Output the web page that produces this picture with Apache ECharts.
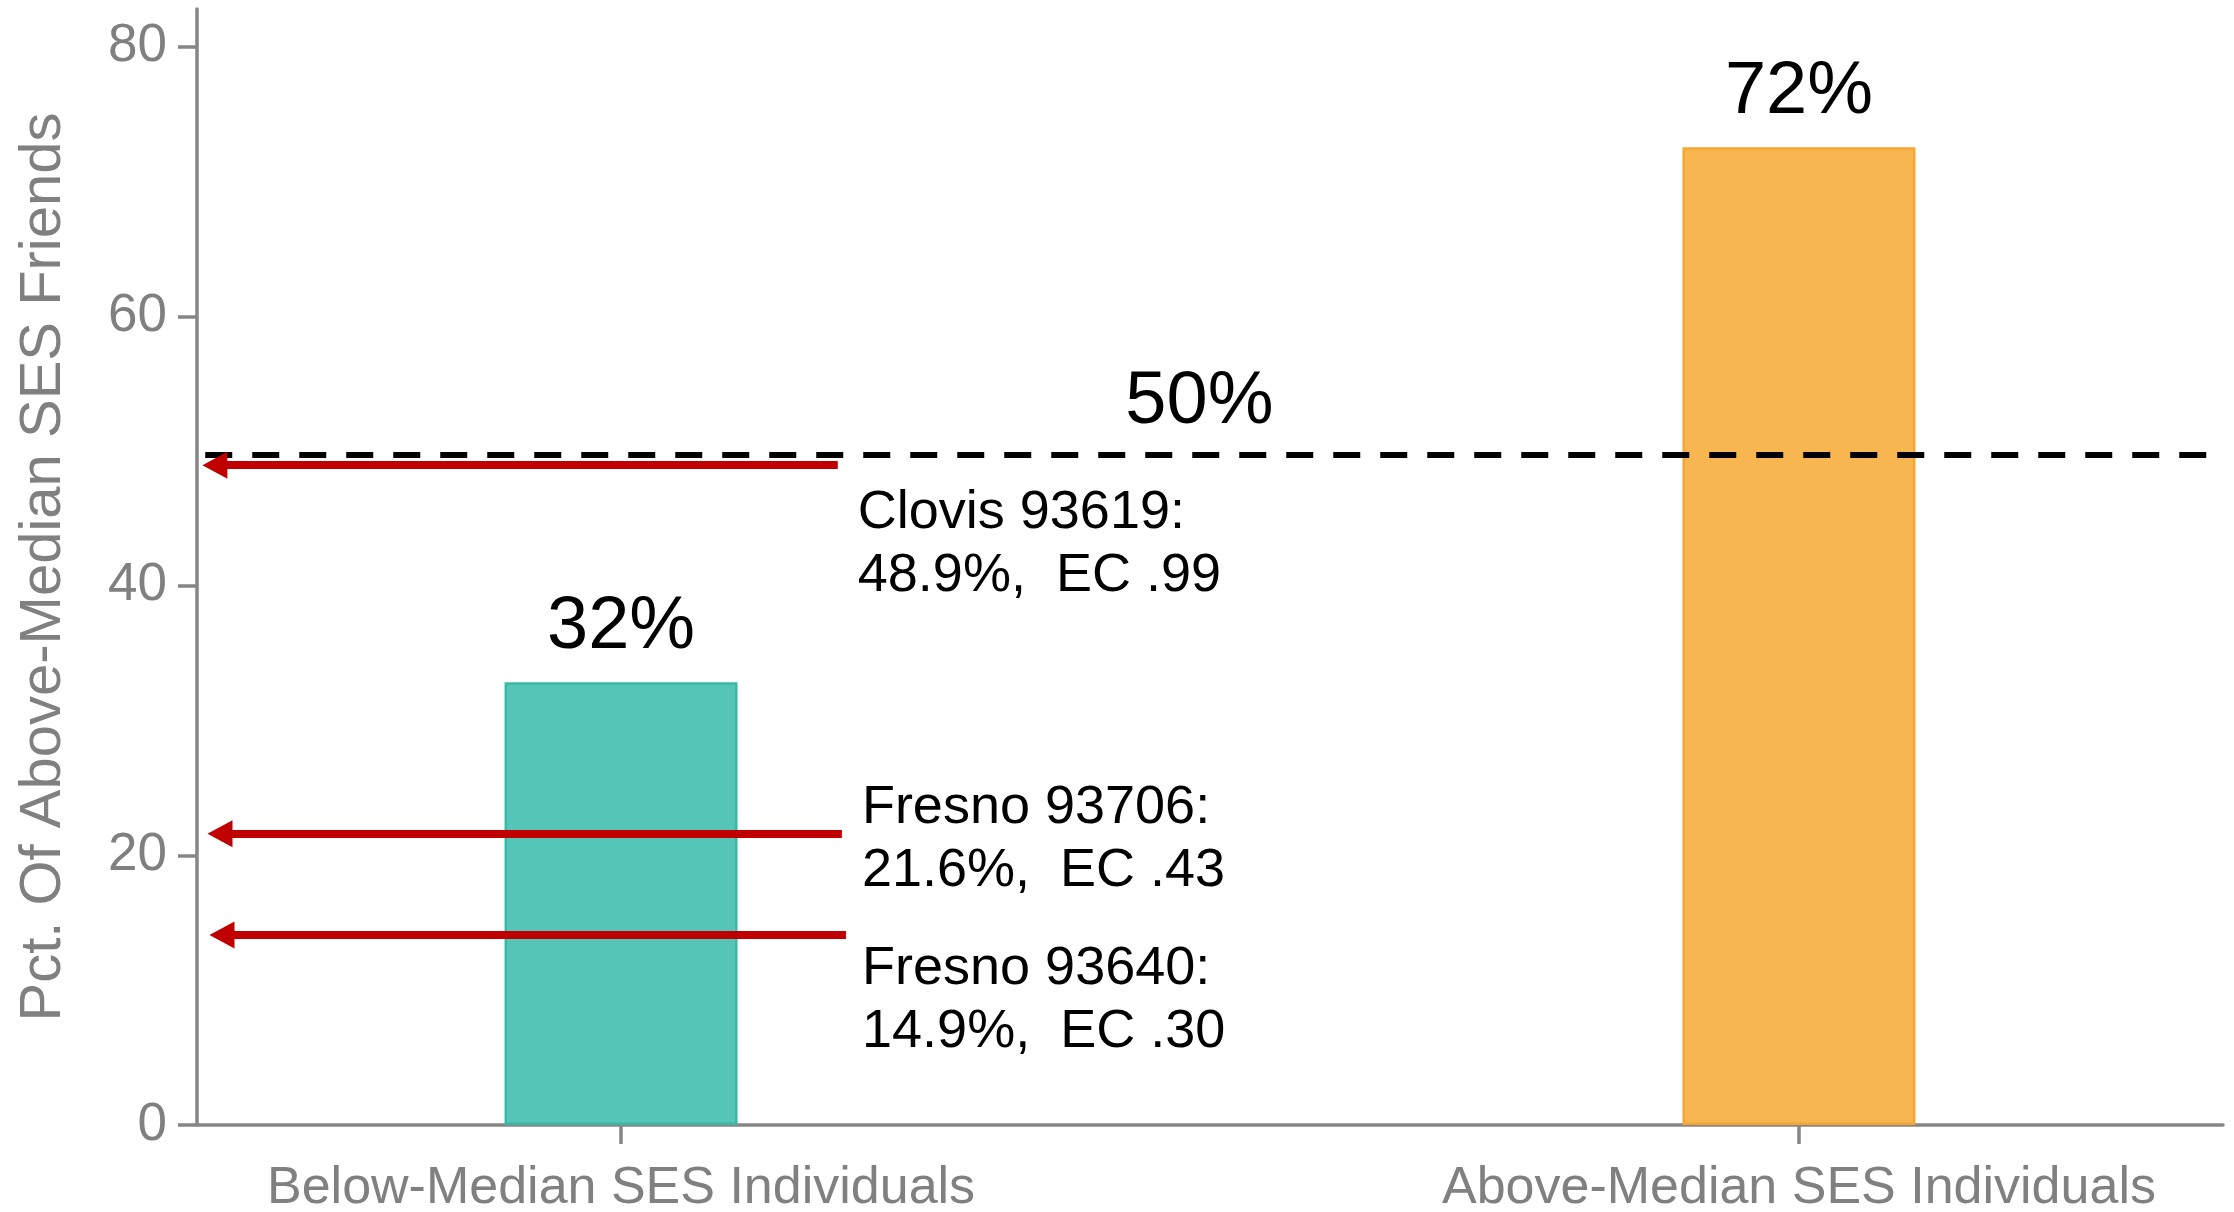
<!DOCTYPE html>
<html><head><meta charset="utf-8">
<script src="https://cdn.jsdelivr.net/npm/echarts@6/dist/echarts.min.js"></script>
<style>html,body{margin:0;padding:0;background:#fff}#c{width:2234px;height:1212px}</style>
</head><body><div id="c"></div>
<script>
// ---- data ----
const categories = ['Below-Median SES Individuals', 'Above-Median SES Individuals'];
const barValues = [32.85, 72.55];
const barLabels = ['32%', '72%'];
const yTicks = [0, 20, 40, 60, 80];
const refValue = 49.7;
const refLabel = '50%';
const refFrom = -0.353;
const refTo = 1.347;
const noteNames = ['Clovis 93619:', 'Fresno 93706:', 'Fresno 93640:'];
const noteTexts = ['48.9%,  EC .99', '21.6%,  EC .43', '14.9%,  EC .30'];
const arrowValues = [48.95, 21.6, 14.1];
const arrowTails = [0.184, 0.1875, 0.191];
const arrowHeads = [-0.3448, -0.3405, -0.3388];

// ---- styling ----
const FONT = 'Liberation Sans, Arial, Helvetica, sans-serif';
const GRAY = '#808080';
const AXIS = '#868686';
const RED = '#c00000';
const fills = ['#55c5b7', '#f8b650'];
const borders = ['#38b8a6', '#f5a630'];
const noteOffsets = [[20, 79], [20, 6], [16, 66]];

const chart = echarts.init(document.getElementById('c'), null, {renderer: 'canvas'});

const barData = barValues.map((v, i) => ({
  value: [i, v],
  itemStyle: {color: fills[i], borderColor: borders[i], borderWidth: 2.5, opacity: 1},
  label: {formatter: barLabels[i]}
}));

const arrowLines = arrowValues.map((v, i) => [
  {coord: [arrowTails[i], v], symbol: 'none'},
  {coord: [arrowHeads[i], v], symbol: 'triangle', symbolSize: [27, 25]}
]);

const refLine = [[
  {coord: [refFrom, refValue], symbol: 'none'},
  {coord: [refTo, refValue], symbol: 'none'}
]];

const noteData = arrowValues.map((v, i) => ({
  value: [arrowTails[i], v],
  label: {formatter: noteNames[i] + '\n' + noteTexts[i], offset: noteOffsets[i]}
}));

chart.setOption({
  animation: false,
  backgroundColor: '#ffffff',
  grid: {left: 197, right: 11, top: 9, bottom: 87, containLabel: false, outerBoundsMode: 'none'},
  xAxis: {
    type: 'value', min: -0.36, max: 1.36,
    axisLine: {show: true, onZero: false, lineStyle: {color: AXIS, width: 3.5}},
    axisTick: {show: true, customValues: [0, 1], length: 19, lineStyle: {color: AXIS, width: 3.5}},
    axisLabel: {customValues: [0, 1], formatter: v => categories[Math.round(v)] || '',
      color: GRAY, fontSize: 52, fontFamily: FONT, margin: 38},
    splitLine: {show: false}
  },
  yAxis: {
    type: 'value', min: 0, max: 82.8,
    name: 'Pct. Of Above-Median SES Friends', nameLocation: 'middle', nameGap: 124,
    nameTextStyle: {color: GRAY, fontSize: 58, fontFamily: FONT},
    axisLine: {show: true, onZero: false, lineStyle: {color: AXIS, width: 3.5}},
    axisTick: {show: true, customValues: yTicks, length: 19, lineStyle: {color: AXIS, width: 3.5}},
    axisLabel: {customValues: yTicks, color: GRAY, fontSize: 53, fontFamily: FONT, margin: 30},
    splitLine: {show: false}
  },
  series: [
    {
      type: 'bar', data: barData, barWidth: 233, z: 2,
      label: {show: true, position: 'top', distance: 18, fontSize: 74, fontFamily: FONT, color: '#000'},
      markLine: {
        silent: true, symbol: 'none', z: 5,
        label: {show: false},
        lineStyle: {color: '#000', width: 6, type: [27, 20], opacity: 1},
        data: refLine
      }
    },
    {
      type: 'line', data: [], z: 6,
      markLine: {
        silent: true, z: 6,
        label: {show: false},
        lineStyle: {color: RED, width: 8, type: 'solid', opacity: 1},
        itemStyle: {color: RED, opacity: 1},
        data: arrowLines
      }
    },
    {
      type: 'scatter', symbolSize: 0, z: 7, silent: true,
      itemStyle: {opacity: 1},
      data: noteData,
      label: {show: true, position: 'inside', align: 'left', verticalAlign: 'middle',
        fontSize: 54, lineHeight: 63, fontFamily: FONT, color: '#000', opacity: 1}
    },
    {
      type: 'scatter', symbolSize: 0, z: 7, silent: true,
      itemStyle: {opacity: 1},
      data: [{value: [0.491, refValue], label: {formatter: refLabel}}],
      label: {show: true, position: 'inside', align: 'center', verticalAlign: 'middle',
        offset: [0, -53], fontSize: 74, fontFamily: FONT, color: '#000', opacity: 1}
    }
  ]
});
</script>
</body></html>
